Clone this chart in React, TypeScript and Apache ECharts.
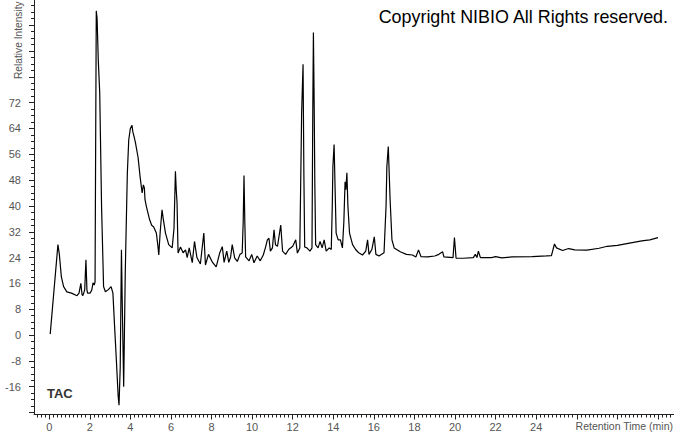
import React, { useEffect, useRef } from "react";
import * as echarts from "echarts";

// Retention time (min)
const times = [
  0.05, 0.43, 0.5, 0.6, 0.71, 0.87, 1.1, 1.37, 1.47, 1.56, 1.62, 1.66, 1.75, 1.81, 1.86, 1.89,
  2.02, 2.1, 2.16, 2.22, 2.26, 2.29, 2.32, 2.36, 2.42, 2.49, 2.58, 2.68, 2.77, 2.9, 3.05, 3.14,
  3.22, 3.31, 3.4, 3.44, 3.5, 3.56, 3.6, 3.67, 3.75, 3.85, 3.92, 4.0, 4.08, 4.12, 4.2, 4.25,
  4.38, 4.48, 4.58, 4.64, 4.69, 4.72, 4.79, 4.95, 5.05, 5.15, 5.28, 5.35, 5.4, 5.47, 5.56, 5.62,
  5.73, 5.89, 6.06, 6.15, 6.22, 6.26, 6.3, 6.35, 6.47, 6.6, 6.72, 6.8, 6.9, 7.05, 7.16, 7.28,
  7.45, 7.62, 7.7, 7.85, 8.05, 8.23, 8.4, 8.53, 8.62, 8.75, 8.85, 8.94, 9.02, 9.14, 9.27, 9.4,
  9.51, 9.56, 9.6, 9.64, 9.68, 9.85, 9.98, 10.09, 10.25, 10.4, 10.55, 10.67, 10.75, 10.83, 10.9, 11.0,
  11.08, 11.15, 11.25, 11.41, 11.5, 11.65, 11.8, 12.0, 12.15, 12.23, 12.35, 12.4, 12.44, 12.51, 12.55, 12.59,
  12.7, 12.85, 12.95, 12.99, 13.02, 13.06, 13.09, 13.13, 13.25, 13.35, 13.45, 13.55, 13.65, 13.8, 13.9, 13.95,
  13.98, 14.04, 14.09, 14.14, 14.24, 14.35, 14.45, 14.52, 14.58, 14.62, 14.67, 14.72, 14.8, 14.95, 15.1, 15.25,
  15.44, 15.6, 15.69, 15.76, 15.9, 16.02, 16.1, 16.25, 16.5, 16.6, 16.64, 16.71, 16.8, 16.89, 17.0, 17.3,
  17.6, 17.9, 18.07, 18.2, 18.32, 18.65, 19.0, 19.2, 19.39, 19.45, 19.9, 19.97, 20.05, 20.4, 20.9, 21.0,
  21.08, 21.15, 21.25, 21.8, 22.0, 22.3, 22.8, 23.8, 24.5, 24.75, 24.9, 25.0, 25.3, 25.6, 25.9, 26.5,
  27.1, 27.5, 28.0, 28.6, 29.2, 29.6, 30.0,
];

// Relative intensity
const intensities = [
  0.3, 28, 25, 18, 15, 13.4, 13, 12.2, 13, 16, 12.5, 12.2, 14, 23.3, 14, 13,
  13, 14, 16.2, 15.5, 16.5, 60, 100.4, 98, 85, 75, 40, 15, 13.4, 14, 15, 13,
  3, -7.8, -19, -21.7, -10, 26.4, 10, -16, 20, 50, 60.5, 64, 65, 63, 61, 59.6,
  55, 49, 44, 46.5, 45.6, 42, 39.8, 35.7, 34, 33.5, 31.6, 28, 24.8, 32, 38.8, 36,
  31.6, 28, 27, 33, 50.7, 45, 41, 25.4, 27.3, 25.5, 26.4, 24, 27, 22.4, 29, 24,
  22, 31.6, 21.7, 25, 22.5, 21.1, 25.4, 27.4, 22.5, 26, 22.5, 24.2, 28, 23.9, 22.8, 25,
  25.4, 35, 49.4, 35, 24.2, 23, 25, 22.4, 24.5, 23, 24.8, 27.4, 29.5, 30, 26, 27,
  32.6, 28, 27.5, 34.1, 26, 25, 26.5, 27.5, 29.5, 25.4, 27, 50, 68.9, 83.9, 50, 27.3,
  27, 26, 27, 70, 93.7, 70, 47, 28, 27, 29, 27, 29.5, 26, 27, 26.5, 40,
  52.2, 59, 45, 31.6, 29.5, 29.5, 27, 35, 47.5, 45, 50.3, 40, 31.6, 28, 26.5, 25.5,
  24.8, 26, 29.5, 25, 26.5, 30.4, 25, 24.5, 25.5, 40, 52.2, 58.4, 41.9, 29.5, 27, 25.8,
  25, 24.8, 24.2, 26.4, 24.3, 24.2, 24.5, 25, 25.8, 24.2, 24, 30.2, 23.8, 23.8, 24, 25,
  24, 26, 24, 24, 24.3, 23.9, 24.2, 24.3, 24.5, 24.6, 28.2, 27, 26.2, 26.8, 26.4, 26.3,
  26.9, 27.5, 27.8, 28.5, 29.2, 29.5, 30.2,
];

// Tick labels
const xLabels = [0, 2, 4, 6, 8, 10, 12, 14, 16, 18, 20, 22, 24];
const yLabels = [-16, -8, 0, 8, 16, 24, 32, 40, 48, 56, 64, 72];

const X_MIN = -0.749;
const X_MAX = 30.79;
const Y_MIN = -24.6;
const Y_MAX = 103.78;

const range = (a: number, b: number, step: number) => {
  const out: number[] = [];
  for (let i = 0; a + i * step <= b + 1e-9; i++) out.push(Math.round((a + i * step) * 1000) / 1000);
  return out;
};

export default function App() {
  const ref = useRef<HTMLDivElement>(null);
  useEffect(() => {
    if (!ref.current) return;
    const chart = echarts.init(ref.current, null, { renderer: "svg" });
    const xMajor = range(0, 30, 2);
    const xMinor = range(-0.6, 30.6, 0.2).filter((v) => Math.abs(v / 2 - Math.round(v / 2)) > 1e-6);
    const yMajor = range(-24, 96, 8);
    const yMinor = range(-24, 102, 2).filter((v) => v % 8 !== 0);
    const labelFont = { fontFamily: "Liberation Sans", fontSize: 11, color: "#555" };
    chart.setOption({
      animation: false,
      backgroundColor: "#fff",
      grid: { left: 34, right: 0, top: 0, bottom: 19.5 },
      xAxis: [
        {
          type: "value", min: X_MIN, max: X_MAX, position: "bottom",
          axisLine: { show: true, onZero: false, lineStyle: { color: "#222", width: 1 } },
          axisTick: { show: true, length: 5, customValues: xMajor, lineStyle: { color: "#222" } },
          axisLabel: { customValues: xLabels, margin: 7, ...labelFont },
          splitLine: { show: false },
        },
        {
          type: "value", min: X_MIN, max: X_MAX, position: "bottom",
          axisLine: { show: false, onZero: false },
          axisTick: { show: true, length: 3, customValues: xMinor, lineStyle: { color: "#222" } },
          axisLabel: { show: false, customValues: xMinor },
          splitLine: { show: false },
        },
      ],
      yAxis: [
        {
          type: "value", min: Y_MIN, max: Y_MAX, position: "left",
          axisLine: { show: true, onZero: false, lineStyle: { color: "#222", width: 1 } },
          axisTick: { show: true, length: 5, customValues: yMajor, lineStyle: { color: "#222" } },
          axisLabel: { customValues: yLabels, margin: 13, ...labelFont },
          splitLine: { show: false },
        },
        {
          type: "value", min: Y_MIN, max: Y_MAX, position: "left",
          axisLine: { show: false, onZero: false },
          axisTick: { show: true, length: 3, customValues: yMinor, lineStyle: { color: "#222" } },
          axisLabel: { show: false, customValues: yMinor },
          splitLine: { show: false },
        },
      ],
      series: [
        {
          type: "line",
          xAxisIndex: 0,
          yAxisIndex: 0,
          data: times.map((t, i) => [t, intensities[i]]),
          symbol: "none",
          lineStyle: { color: "#000", width: 1.2 },
          silent: true,
        },
      ],
      graphic: [
        {
          type: "text", x: 668, y: 16.5,
          style: { text: "Copyright NIBIO All Rights reserved.", font: "17.9px 'Liberation Sans'", fill: "#000", textAlign: "right", textVerticalAlign: "middle" },
        },
        {
          type: "text", x: 47, y: 393,
          style: { text: "TAC", font: "bold 13px 'Liberation Sans'", fill: "#333", textAlign: "left", textVerticalAlign: "middle" },
        },
        {
          type: "text", x: 673, y: 426,
          style: { text: "Retention Time (min)", font: "10.5px 'Liberation Sans'", fill: "#555", textAlign: "right", textVerticalAlign: "middle" },
        },
        {
          type: "text", x: 18, y: 79, rotation: Math.PI / 2,
          style: { text: "Relative Intensity", font: "10.2px 'Liberation Sans'", fill: "#555", textAlign: "left", textVerticalAlign: "middle" },
        },
      ],
    });
    return () => chart.dispose();
  }, []);
  return <div ref={ref} style={{ position: "fixed", left: 0, top: 0, width: 674, height: 434 }} />;
}
